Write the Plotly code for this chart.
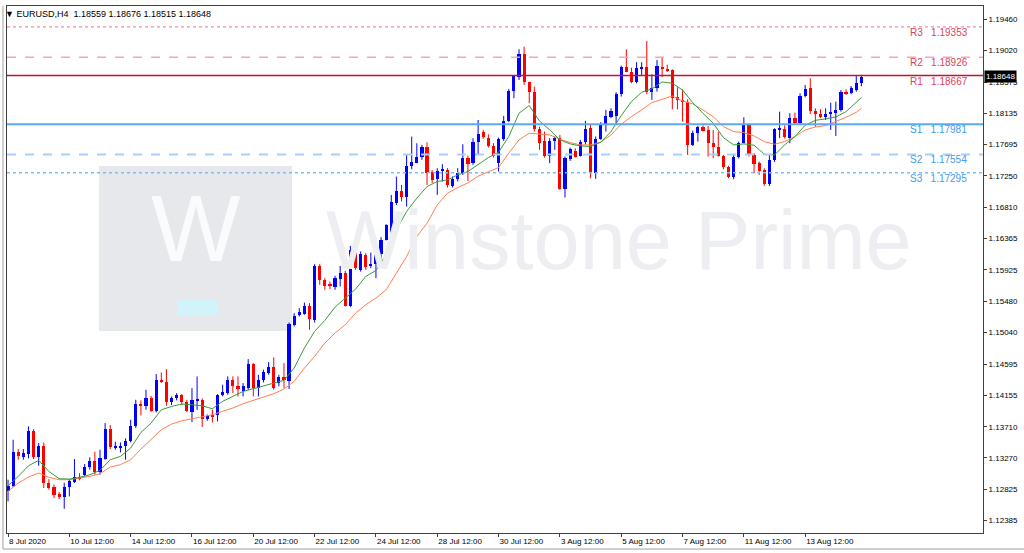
import plotly.graph_objects as go

# ---------------- data (EURUSD H4) ----------------
opens = [1.12798,1.12878,1.13358,1.13283,1.13330,1.13654,1.13283,1.13438,1.12916,1.12855,
1.12756,1.12723,1.12860,1.12930,1.13001,1.13033,1.13142,1.13231,1.13076,1.13254,
1.13682,1.13414,1.13424,1.13442,1.13503,1.13720,1.14030,1.13997,1.14114,1.13936,
1.14373,1.14349,1.14058,1.14114,1.14157,1.14053,1.13922,1.14086,1.14091,1.13823,
1.13880,1.13880,1.14153,1.14186,1.14365,1.14280,1.14209,1.14256,1.14595,1.14256,
1.14365,1.14468,1.14553,1.14327,1.14412,1.14350,1.15150,1.15286,1.15305,1.15408,
1.15220,1.15972,1.15775,1.15727,1.15681,1.15798,1.15887,1.15417,1.16198,1.15916,
1.16137,1.15972,1.16005,1.16151,1.16348,1.16451,1.16874,1.17044,1.16959,1.17391,
1.17438,1.17514,1.17664,1.17312,1.17203,1.17321,1.17336,1.17110,1.17209,1.17289,
1.17500,1.17430,1.17726,1.17871,1.17791,1.17674,1.17430,1.17773,1.18026,1.18449,
1.18651,1.18966,1.18572,1.18431,1.17914,1.17744,1.17538,1.17744,1.17791,1.17068,
1.17491,1.17603,1.17538,1.17726,1.17923,1.17289,1.17773,1.17970,1.18088,1.18097,
1.18402,1.18783,1.18722,1.18581,1.18769,1.18793,1.18431,1.18487,1.18792,1.18764,
1.18745,1.18360,1.18322,1.18299,1.17687,1.17852,1.17937,1.17899,1.17720,1.17664,
1.17532,1.17373,1.17232,1.17514,1.17720,1.17969,1.17546,1.17429,1.17335,1.17138,
1.17476,1.17899,1.17913,1.17782,1.18063,1.18002,1.18378,1.18487,1.18172,1.18125,
1.18087,1.18125,1.18143,1.18181,1.18439,1.18416,1.18463,1.18559]
highs = [1.12963,1.13527,1.13395,1.13395,1.13715,1.13677,1.13480,1.13489,1.12972,1.12893,
1.12789,1.12921,1.12972,1.13254,1.13057,1.13184,1.13278,1.13358,1.13386,1.13762,
1.13734,1.13499,1.13489,1.13546,1.13809,1.14091,1.14082,1.14232,1.14147,1.14453,
1.14476,1.14523,1.14138,1.14185,1.14171,1.14091,1.14255,1.14420,1.14110,1.13884,
1.13950,1.14171,1.14303,1.14421,1.14421,1.14421,1.14327,1.14665,1.14609,1.14444,
1.14515,1.14623,1.14689,1.14444,1.14609,1.15182,1.15314,1.15384,1.15464,1.15455,
1.16005,1.16005,1.15807,1.15760,1.15840,1.15981,1.15911,1.16263,1.16245,1.16184,
1.16160,1.16169,1.16184,1.16386,1.16569,1.16982,1.17241,1.17123,1.17546,1.17805,
1.17711,1.17688,1.17725,1.17335,1.17359,1.17415,1.17359,1.17242,1.17359,1.17697,
1.17538,1.17782,1.18040,1.17900,1.17838,1.17712,1.17791,1.18097,1.18478,1.18675,
1.19037,1.19074,1.18581,1.18511,1.17947,1.17876,1.17782,1.17806,1.17829,1.17524,
1.17650,1.17641,1.17759,1.18026,1.17970,1.17806,1.18008,1.18182,1.18205,1.18431,
1.18807,1.19037,1.18778,1.18854,1.18854,1.19154,1.18684,1.18886,1.18924,1.18820,
1.18754,1.18501,1.18472,1.18331,1.17890,1.17955,1.17965,1.17955,1.17899,1.17876,
1.17546,1.17391,1.17546,1.17734,1.18078,1.17993,1.17570,1.17453,1.17358,1.17561,
1.17922,1.18157,1.17965,1.18134,1.18143,1.18416,1.18534,1.18628,1.18204,1.18190,
1.18204,1.18284,1.18298,1.18463,1.18472,1.18519,1.18660,1.18676]
lows = [1.12657,1.12860,1.13245,1.13245,1.13264,1.13254,1.13160,1.12845,1.12822,1.12704,
1.12690,1.12554,1.12728,1.12916,1.12954,1.13010,1.13104,1.13033,1.13033,1.13245,
1.13395,1.13386,1.13348,1.13245,1.13489,1.13691,1.13870,1.13950,1.13922,1.13912,
1.14326,1.14006,1.14016,1.14082,1.14020,1.13917,1.13776,1.13950,1.13706,1.13795,
1.13771,1.13786,1.14139,1.14163,1.14186,1.14139,1.14139,1.14233,1.14139,1.14139,
1.14336,1.14444,1.14233,1.14280,1.14256,1.14243,1.15126,1.15267,1.15291,1.15079,
1.15182,1.15713,1.15643,1.15652,1.15643,1.15690,1.15408,1.15399,1.15925,1.15901,
1.15925,1.15948,1.15807,1.15996,1.16339,1.16433,1.16841,1.16889,1.16818,1.17344,
1.17429,1.17476,1.17123,1.17147,1.16982,1.17171,1.17086,1.17086,1.17171,1.17265,
1.17180,1.17406,1.17547,1.17773,1.17650,1.17509,1.17312,1.17744,1.18008,1.18346,
1.18604,1.18534,1.18276,1.17876,1.17618,1.17509,1.17430,1.17618,1.17054,1.16945,
1.17463,1.17509,1.17524,1.17697,1.17218,1.17209,1.17759,1.17876,1.18064,1.17970,
1.18370,1.18713,1.18557,1.18557,1.18675,1.18402,1.18323,1.18440,1.18642,1.18717,
1.18190,1.18190,1.18016,1.17546,1.17673,1.17734,1.17876,1.17523,1.17500,1.17523,
1.17344,1.17218,1.17203,1.17495,1.17711,1.17523,1.17288,1.17264,1.17109,1.17109,
1.17448,1.17782,1.17777,1.17711,1.17984,1.17984,1.18360,1.18125,1.17946,1.18064,
1.18040,1.17899,1.17814,1.18158,1.18393,1.18402,1.18439,1.18515]
closes = [1.12878,1.13358,1.13292,1.13339,1.13654,1.13278,1.13438,1.12911,1.12845,1.12751,
1.12723,1.12864,1.12939,1.13001,1.12972,1.13142,1.13231,1.13076,1.13268,1.13682,
1.13419,1.13442,1.13442,1.13503,1.13720,1.14030,1.13997,1.14114,1.13936,1.14373,
1.14349,1.14063,1.14114,1.14157,1.14053,1.13926,1.14086,1.14100,1.13818,1.13856,
1.13856,1.14161,1.14195,1.14365,1.14289,1.14243,1.14289,1.14595,1.14256,1.14374,
1.14477,1.14553,1.14256,1.14412,1.14374,1.15159,1.15276,1.15323,1.15408,1.15229,
1.15972,1.15775,1.15699,1.15690,1.15807,1.15887,1.15417,1.16198,1.15948,1.16151,
1.15963,1.16010,1.16151,1.16348,1.16559,1.16888,1.17044,1.16959,1.17391,1.17452,
1.17523,1.17664,1.17297,1.17194,1.17326,1.17345,1.17115,1.17209,1.17298,1.17500,
1.17420,1.17735,1.17848,1.17801,1.17674,1.17538,1.17773,1.18026,1.18449,1.18656,
1.18966,1.18572,1.18431,1.17914,1.17711,1.17538,1.17744,1.17782,1.17068,1.17500,
1.17627,1.17524,1.17735,1.17914,1.17289,1.17768,1.17970,1.18097,1.18167,1.18402,
1.18783,1.18722,1.18581,1.18778,1.18793,1.18440,1.18487,1.18800,1.18759,1.18736,
1.18345,1.18322,1.18299,1.17687,1.17861,1.17937,1.17890,1.17720,1.17664,1.17532,
1.17373,1.17232,1.17523,1.17720,1.17969,1.17546,1.17420,1.17326,1.17138,1.17476,
1.17908,1.17922,1.17796,1.18063,1.17993,1.18378,1.18477,1.18172,1.18125,1.18087,
1.18125,1.18158,1.18181,1.18439,1.18407,1.18487,1.18557,1.18648]

# moving averages (bar index -> price)
ma_idx = list(range(0, 167, 2)) + [167]
ma_fast = [1.12878,1.13010,1.13160,1.13236,1.13080,1.12977,1.12972,1.12996,1.13033,1.13095,
1.13245,1.13292,1.13410,1.13630,1.13762,1.13950,1.13997,1.14030,1.14020,1.14006,
1.13964,1.14069,1.14139,1.14209,1.14247,1.14289,1.14327,1.14365,1.14539,1.14821,
1.15056,1.15211,1.15399,1.15526,1.15652,1.15831,1.15916,1.16137,1.16489,1.16748,
1.16936,1.17100,1.17171,1.17194,1.17265,1.17312,1.17415,1.17509,1.17585,1.17806,
1.18135,1.18243,1.18026,1.17900,1.17759,1.17702,1.17674,1.17665,1.17726,1.17876,
1.18102,1.18299,1.18431,1.18478,1.18576,1.18557,1.18463,1.18284,1.18134,1.17993,
1.17791,1.17688,1.17702,1.17683,1.17556,1.17547,1.17688,1.17805,1.17965,1.18035,
1.18054,1.18082,1.18157,1.18289,1.18355]
ma_slow = [1.12798,1.12916,1.13001,1.13057,1.12996,1.12963,1.12963,1.12982,1.13010,1.13048,
1.13142,1.13175,1.13245,1.13395,1.13527,1.13668,1.13748,1.13795,1.13823,1.13856,
1.13880,1.13928,1.13975,1.14036,1.14083,1.14139,1.14177,1.14243,1.14351,1.14539,
1.14703,1.14891,1.15032,1.15150,1.15314,1.15432,1.15526,1.15643,1.15878,1.16113,
1.16395,1.16583,1.16840,1.17006,1.17086,1.17152,1.17246,1.17303,1.17369,1.17571,
1.17759,1.17853,1.17838,1.17829,1.17768,1.17721,1.17688,1.17688,1.17726,1.17829,
1.17979,1.18088,1.18182,1.18285,1.18331,1.18378,1.18308,1.18266,1.18181,1.18087,
1.17946,1.17876,1.17861,1.17814,1.17734,1.17697,1.17734,1.17805,1.17899,1.17941,
1.17960,1.18016,1.18078,1.18148,1.18204]

pivot_names = ["R3", "R2", "R1", "S1", "S2", "S3"]
pivot_levels = [1.19353, 1.18926, 1.18667, 1.17981, 1.17554, 1.17295]

y_ticks = [1.19460,1.19020,1.18575,1.18135,1.17695,1.17250,1.16810,1.16365,1.15925,
           1.15480,1.15040,1.14595,1.14155,1.13710,1.13270,1.12825,1.12385]
x_tick_idx = [0,12,24,36,48,60,72,84,96,108,120,132,144,156]
x_tick_text = ["8 Jul 2020","10 Jul 12:00","14 Jul 12:00","16 Jul 12:00","20 Jul 12:00",
               "22 Jul 12:00","24 Jul 12:00","28 Jul 12:00","30 Jul 12:00","3 Aug 12:00",
               "5 Aug 12:00","7 Aug 12:00","11 Aug 12:00","13 Aug 12:00"]

symbol = "EURUSD,H4"

# ---------------- figure ----------------
BULL = "#0000ff"
BEAR = "#ff0000"
n = len(closes)
idx = list(range(n))

fig = go.Figure()

# wicks
for is_bull, col in [(True, BULL), (False, BEAR)]:
    wx, wy = [], []
    for i in idx:
        if (closes[i] >= opens[i]) == is_bull:
            wx += [i, i, None]
            wy += [lows[i], highs[i], None]
    fig.add_trace(go.Scatter(x=wx, y=wy, mode="lines", line=dict(color=col, width=1),
                             hoverinfo="skip", showlegend=False))

# bodies
body_base = [min(o, c) for o, c in zip(opens, closes)]
body_h = [max(abs(c - o), 0.00004) for o, c in zip(opens, closes)]
body_col = [BULL if c >= o else BEAR for o, c in zip(opens, closes)]
fig.add_trace(go.Bar(x=idx, y=body_h, base=body_base, width=0.62,
                     marker=dict(color=body_col, line=dict(width=0)), showlegend=False))

# moving averages
fig.add_trace(go.Scatter(x=ma_idx, y=ma_slow, mode="lines",
                         line=dict(color="#ff7f50", width=1), showlegend=False))
fig.add_trace(go.Scatter(x=ma_idx, y=ma_fast, mode="lines",
                         line=dict(color="#3a9a3a", width=1), showlegend=False))

# pivot lines
pstyle = {
    "R3": dict(color="#f07090", width=1, dash="dot"),
    "R2": dict(color="#f4a6b6", width=1.5, dash="dash"),
    "R1": dict(color="#c8102e", width=1.5, dash="solid"),
    "S1": dict(color="#5aa9f2", width=2, dash="solid"),
    "S2": dict(color="#a6d0f8", width=2, dash="dash"),
    "S3": dict(color="#7dbdf6", width=1.5, dash="dot"),
}
shapes = []
annotations = []
for name, lvl in zip(pivot_names, pivot_levels):
    shapes.append(dict(type="line", xref="paper", yref="y", x0=0, x1=1, y0=lvl, y1=lvl,
                       line=pstyle[name], layer="above"))
    tcol = "#e0405c" if name.startswith("R") else "#3f9cef"
    annotations.append(dict(xref="paper", yref="y", x=0.923, y=lvl, xanchor="left",
                            yanchor="top", yshift=2, showarrow=False,
                            text=f"{name}\u00a0\u00a0\u00a0{lvl:.5f}",
                            font=dict(family="Liberation Sans", size=10, color=tcol)))

# window border lines
shapes.append(dict(type="line", xref="paper", yref="paper", x0=-0.0041, x1=-0.0041,
                   y0=-0.0304, y1=1.0, line=dict(color="#a0a0a0", width=1)))
shapes.append(dict(type="line", xref="paper", yref="paper", x0=-0.0041, x1=1.042,
                   y0=-0.0304, y1=-0.0304, line=dict(color="#a0a0a0", width=1)))

# watermark (below data)
shapes.append(dict(type="rect", xref="paper", yref="paper", x0=0.0943, x1=0.292,
                   y0=0.3833, y1=0.6964, fillcolor="#e6e8ec", line=dict(width=0), layer="below"))
shapes.append(dict(type="rect", xref="paper", yref="paper", x0=0.1752, x1=0.2162,
                   y0=0.4118, y1=0.4421, fillcolor="#d2f3fa", line=dict(width=0), layer="below"))
annotations.append(dict(xref="paper", yref="paper", x=0.1932, y=0.578, xanchor="center",
                        yanchor="middle", showarrow=False,
                        text="W", font=dict(family="Liberation Sans", size=95, color="#fafbfc")))
annotations.append(dict(xref="paper", yref="paper", x=0.627, y=0.555, xanchor="center",
                        yanchor="middle", showarrow=False,
                        text="Winstone Prime",
                        font=dict(family="Liberation Sans", size=83, color="#eceef1")))

# header
annotations.append(dict(xref="paper", yref="paper", x=-0.004, y=1, yanchor="top", xanchor="left",
                        yshift=-1, showarrow=False,
                        text=f"\u25bc {symbol}\u00a0\u00a0{opens[-1]:.5f} {highs[-1]:.5f} {lows[-1]:.5f} {closes[-1]:.5f}",
                        font=dict(family="Liberation Sans", size=9, color="#000000")))

# current price label on axis
annotations.append(dict(xref="paper", yref="y", x=1, y=closes[-1], xanchor="left",
                        showarrow=False, text=f"{closes[-1]:.5f}", bgcolor="#000000",
                        borderpad=1, xshift=1,
                        font=dict(family="Liberation Sans", size=8, color="#ffffff")))

fig.update_layout(
    width=1024, height=553,
    margin=dict(l=7, r=41, t=6, b=20, pad=0, autoexpand=False),
    paper_bgcolor="#ffffff", plot_bgcolor="#ffffff",
    bargap=0, showlegend=False,
    shapes=shapes, annotations=annotations,
    xaxis=dict(range=[-0.2, 190.8], tickmode="array", tickvals=x_tick_idx,
               ticktext=x_tick_text, ticks="outside", ticklen=3, tickcolor="#404040",
               ticklabelposition="outside right", showgrid=False, zeroline=False,
               showline=True, linecolor="#404040", linewidth=1, mirror=True,
               automargin=False,
               tickfont=dict(family="Liberation Sans", size=8, color="#000000")),
    yaxis=dict(range=[1.12211, 1.19648], side="right", tickmode="array", tickvals=y_ticks,
               ticktext=[f"{v:.5f}" for v in y_ticks], ticks="outside", ticklen=3,
               tickcolor="#404040", showgrid=False, zeroline=False, showline=True,
               linecolor="#404040", linewidth=1, mirror=True, automargin=False,
               tickfont=dict(family="Liberation Sans", size=8, color="#000000")),
)

fig.write_html("out.html", config={"displayModeBar": False},
               post_script="document.body.style.margin='0';")
